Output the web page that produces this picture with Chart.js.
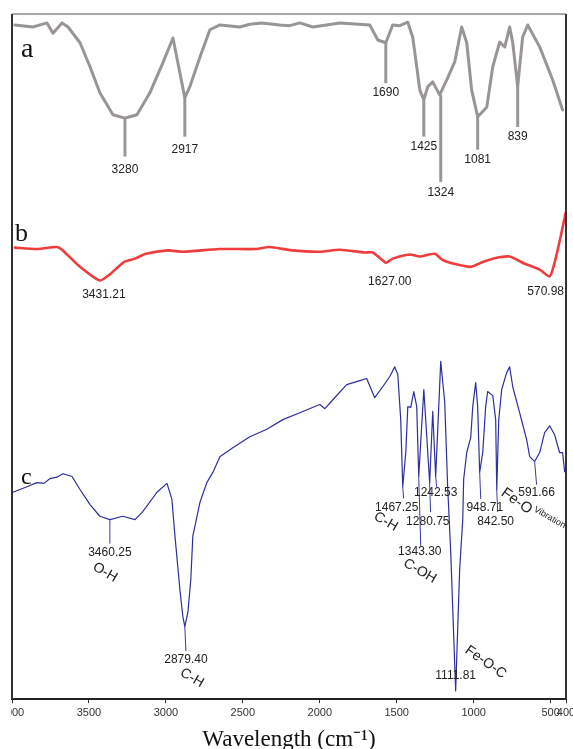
<!DOCTYPE html>
<html>
<head>
<meta charset="utf-8">
<script src="https://cdn.jsdelivr.net/npm/chart.js@4.4.0/dist/chart.umd.min.js"></script>
<style>
html, body { margin: 0; padding: 0; background: #fff; overflow: hidden; width: 573px; height: 749px; position: relative; }
#ftir { position: absolute; left: -34px; top: 0; }
</style>
</head>
<body>
<canvas id="ftir" width="640" height="754"></canvas>
<script>
// x axis ticks (wavenumber, reversed)
const tickValues = [4000, 3500, 3000, 2500, 2000, 1500, 1000, 500, 400];

// spectrum a (grey)
const waveA = [3981, 3864, 3773, 3734, 3675, 3636, 3558, 3493, 3429, 3344, 3299, 3266, 3234, 3188, 3104, 3019, 2954, 2909, 2877, 2844, 2779, 2714, 2649, 2519, 2454, 2377, 2260, 2195, 2130, 2045, 1870, 1675, 1623, 1571, 1526, 1480, 1428, 1396, 1370, 1350, 1324, 1298, 1266, 1221, 1175, 1123, 1078, 1045, 1013, 974, 915, 876, 831, 798, 766, 746, 714, 682, 649, 571, 487, 422];
const transA = [98.4, 98.1, 98.7, 97.2, 98.7, 98.1, 95.8, 92.3, 88.5, 85.3, 85.0, 84.8, 85.0, 85.3, 88.5, 92.9, 96.5, 91.4, 87.8, 89.4, 93.7, 97.7, 98.4, 98.1, 98.5, 98.7, 98.4, 98.3, 98.7, 98.1, 98.7, 98.4, 96.2, 95.8, 98.4, 98.3, 98.8, 96.6, 92.3, 88.9, 87.5, 89.4, 90.1, 88.2, 90.4, 93.0, 98.1, 95.8, 88.9, 85.0, 86.4, 92.3, 95.9, 95.2, 98.1, 95.8, 89.4, 96.6, 98.4, 95.2, 90.4, 86.0];

// spectrum b (red)
const waveB = [3981, 3838, 3708, 3675, 3558, 3429, 3364, 3273, 3201, 3130, 2987, 2890, 2656, 2415, 2325, 2182, 2000, 1870, 1708, 1656, 1610, 1571, 1526, 1415, 1350, 1253, 1201, 1136, 1019, 941, 857, 766, 682, 571, 506, 474, 435, 402];
const transB = [65.9, 65.7, 66.0, 65.6, 63.1, 61.1, 62.0, 63.8, 64.3, 65.0, 65.5, 65.3, 65.7, 65.7, 66.0, 65.5, 65.3, 65.6, 65.2, 65.2, 64.4, 63.7, 64.3, 64.9, 64.6, 65.0, 64.1, 63.6, 63.1, 63.8, 64.4, 64.6, 63.7, 62.7, 61.7, 63.7, 67.5, 71.0];

// spectrum c (blue)
const waveC = [3994, 3948, 3903, 3838, 3792, 3753, 3708, 3669, 3610, 3558, 3493, 3429, 3364, 3279, 3201, 3149, 3058, 2993, 2961, 2941, 2909, 2890, 2877, 2857, 2838, 2825, 2779, 2734, 2695, 2649, 2565, 2454, 2344, 2240, 2130, 2000, 1967, 1915, 1825, 1740, 1695, 1643, 1591, 1545, 1513, 1493, 1474, 1461, 1441, 1428, 1409, 1389, 1370, 1357, 1324, 1286, 1266, 1247, 1214, 1188, 1169, 1149, 1117, 1091, 1071, 1065, 1045, 1019, 1006, 987, 974, 961, 941, 922, 909, 876, 857, 850, 837, 818, 785, 766, 746, 701, 656, 636, 604, 571, 539, 506, 474, 442, 422, 409];
const transC = [30.2, 30.6, 31.0, 31.6, 31.5, 32.2, 32.4, 32.9, 32.5, 30.6, 28.4, 26.7, 26.2, 26.7, 26.2, 27.4, 30.2, 31.5, 29.2, 23.8, 16.0, 12.1, 10.6, 12.7, 17.5, 23.8, 28.7, 31.6, 33.1, 35.4, 36.7, 38.3, 39.4, 40.8, 41.8, 43.0, 42.4, 43.7, 45.9, 46.5, 46.8, 44.0, 45.6, 47.1, 48.5, 47.4, 40.8, 31.0, 36.0, 42.7, 42.6, 44.9, 42.7, 32.5, 45.2, 31.6, 42.0, 32.5, 49.3, 43.3, 31.0, 21.4, 1.2, 19.0, 26.2, 32.1, 36.0, 38.2, 42.7, 46.2, 42.7, 33.1, 36.0, 42.7, 44.9, 44.3, 40.8, 30.6, 40.8, 45.2, 47.7, 48.5, 45.6, 41.8, 37.9, 35.4, 34.7, 36.0, 38.9, 39.9, 38.6, 36.0, 36.0, 33.2];

// peak labels: text, where it sits, optional leader line (x1, y1, x2, y2)
const labelsA = [
    {t: '3280', x: 3266, y: 77.3, line: [3266, 85.0, 3266, 79.2]},
    {t: '2917', x: 2877, y: 80.2, line: [2877, 87.8, 2877, 82.1]},
    {t: '1690', x: 1571, y: 88.5, line: [1571, 95.8, 1571, 89.9]},
    {t: '1425', x: 1324, y: 80.6, line: [1324, 87.5, 1324, 82.1]},
    {t: '1324', x: 1214, y: 73.9, line: [1214, 88.2, 1214, 75.5]},
    {t: '1081', x: 974, y: 78.7, line: [974, 85.0, 974, 80.2]},
    {t: '839', x: 714, y: 82.1, line: [714, 89.4, 714, 83.5]}
];
const labelsB = [
    {t: '3431.21', x: 3403, y: 59.0},
    {t: '1627.00', x: 1545, y: 60.9},
    {t: '570.98', x: 532, y: 59.5}
];
const labelsC = [
    {t: '3460.25', x: 3364, y: 21.4, line: [3364, 26.2, 3364, 22.7]},
    {t: '2879.40', x: 2870, y: 5.8, line: [2877, 10.6, 2870, 7.0]},
    {t: '1467.25', x: 1500, y: 28.0, line: [1461, 31.0, 1455, 29.3]},
    {t: '1343.30', x: 1350, y: 21.6, line: [1357, 32.5, 1344, 22.3]},
    {t: '1280.75', x: 1298, y: 25.9, line: [1286, 31.6, 1280, 27.3]},
    {t: '1242.53', x: 1247, y: 30.2, line: [1247, 32.5, 1241, 31.0]},
    {t: '948.71', x: 928, y: 28.0, line: [961, 33.1, 954, 29.2]},
    {t: '842.50', x: 857, y: 25.9, line: [850, 30.6, 844, 27.3]},
    {t: '591.66', x: 591, y: 30.2, line: [604, 34.7, 591, 31.3]},
    {t: '1111.81', x: 1117, y: 3.4}
];
const bondsC = [
    {t: 'O-H', x: 3396, y: 18.5, rot: 30, size: 14},
    {t: 'C-H', x: 2831, y: 3.1, rot: 30, size: 14},
    {t: 'C-H', x: 1571, y: 25.9, rot: 30, size: 14},
    {t: 'C-OH', x: 1350, y: 18.7, rot: 30, size: 14},
    {t: 'Fe-O-C', x: 922, y: 5.4, rot: 35, size: 14},
    {t: 'Fe-O', x: 721, y: 28.9, rot: 35, size: 15},
    {t: 'Vibration', x: 506, y: 26.5, rot: 30, size: 9}
];

function pts(w, v) {
    return w.map((x, i) => ({x: x, y: v[i]}));
}

const annotate = {
    id: 'annotate',
    afterDatasetsDraw(chart) {
        const ctx = chart.ctx;
        const area = chart.chartArea;
        const x = chart.scales.x;
        const y = chart.scales.y;
        ctx.save();

        // frame (bottom is the x axis border)
        ctx.strokeStyle = '#333';
        ctx.lineWidth = 2;
        ctx.beginPath();
        ctx.moveTo(area.left, area.bottom);
        ctx.lineTo(area.left, area.top);
        ctx.moveTo(area.right, area.top);
        ctx.lineTo(area.right, area.bottom);
        ctx.stroke();
        ctx.lineWidth = 1.2;
        ctx.strokeStyle = '#555';
        ctx.beginPath();
        ctx.moveTo(area.left, area.top);
        ctx.lineTo(area.right, area.top);
        ctx.stroke();

        function drawLabels(list, lineColor, lineWidth) {
            list.forEach(l => {
                if (l.line) {
                    ctx.strokeStyle = lineColor;
                    ctx.lineWidth = lineWidth;
                    ctx.beginPath();
                    ctx.moveTo(x.getPixelForValue(l.line[0]), y.getPixelForValue(l.line[1]));
                    ctx.lineTo(x.getPixelForValue(l.line[2]), y.getPixelForValue(l.line[3]));
                    ctx.stroke();
                }
                ctx.fillStyle = '#222';
                ctx.font = '12px "Liberation Sans", Arial, sans-serif';
                ctx.textAlign = 'center';
                ctx.textBaseline = 'middle';
                ctx.fillText(l.t, x.getPixelForValue(l.x), y.getPixelForValue(l.y));
            });
        }
        drawLabels(labelsA, '#9a9696', 3);
        drawLabels(labelsB, '#f04040', 1);
        drawLabels(labelsC, '#3a3aa8', 1);

        bondsC.forEach(b => {
            ctx.save();
            ctx.translate(x.getPixelForValue(b.x), y.getPixelForValue(b.y));
            ctx.rotate(b.rot * Math.PI / 180);
            ctx.fillStyle = '#222';
            ctx.font = b.size + 'px "Liberation Sans", Arial, sans-serif';
            ctx.textAlign = 'center';
            ctx.textBaseline = 'middle';
            ctx.fillText(b.t, 0, 0);
            ctx.restore();
        });

        // panel letters
        ctx.fillStyle = '#111';
        ctx.textAlign = 'left';
        ctx.textBaseline = 'alphabetic';
        ctx.font = '28px "Liberation Serif", serif';
        ctx.fillText('a', area.left + 9, 57);
        ctx.font = '26px "Liberation Serif", serif';
        ctx.fillText('b', area.left + 3, 241);
        ctx.font = '24px "Liberation Serif", serif';
        ctx.fillText('c', area.left + 9, 484);
        ctx.restore();
    },
    afterDraw(chart) {
        // the source figure is cropped at its left frame, cutting the first tick label
        const area = chart.chartArea;
        const ctx = chart.ctx;
        ctx.save();
        ctx.fillStyle = '#fff';
        ctx.fillRect(0, area.bottom + 2, area.left - 1, chart.height - area.bottom);
        ctx.restore();
    }
};

const ctx = document.getElementById('ftir').getContext('2d');
const ftirChart = new Chart(ctx, {
    type: 'line',
    data: {
        datasets: [
            {
                label: 'c',
                data: pts(waveC, transC),
                borderColor: '#2e2e9e',
                borderWidth: 1.2,
                pointRadius: 0,
                fill: false
            },
            {
                label: 'b',
                data: pts(waveB, transB),
                borderColor: '#f03c3c',
                borderWidth: 2.6,
                pointRadius: 0,
                fill: false,
                tension: 0.2
            },
            {
                label: 'a',
                data: pts(waveA, transA),
                borderColor: '#9a9595',
                borderWidth: 3,
                pointRadius: 0,
                fill: false
            }
        ]
    },
    options: {
        responsive: false,
        animation: false,
        layout: {padding: {left: 46, right: 40, top: 14, bottom: 0}},
        plugins: {
            legend: {display: false},
            tooltip: {enabled: false}
        },
        elements: {line: {borderJoinStyle: 'round', borderCapStyle: 'round'}},
        scales: {
            x: {
                type: 'linear',
                min: 400,
                max: 4000,
                reverse: true,
                afterBuildTicks: scale => {
                    scale.ticks = tickValues.map(v => ({value: v}));
                },
                ticks: {
                    autoSkip: false,
                    maxRotation: 0,
                    padding: 3,
                    color: '#333',
                    font: {family: 'Liberation Sans', size: 11},
                    callback: v => String(v)
                },
                grid: {display: true, drawOnChartArea: false, drawTicks: true, tickLength: 4, color: '#333'},
                border: {display: true, color: '#222', width: 2},
                title: {
                    display: true,
                    text: 'Wavelength (cm⁻¹)',
                    color: '#111',
                    font: {family: 'Liberation Serif', size: 23},
                    padding: {top: 4, bottom: 0}
                }
            },
            y: {display: false, min: 0, max: 100}
        }
    },
    plugins: [annotate]
});
</script>
</body>
</html>
